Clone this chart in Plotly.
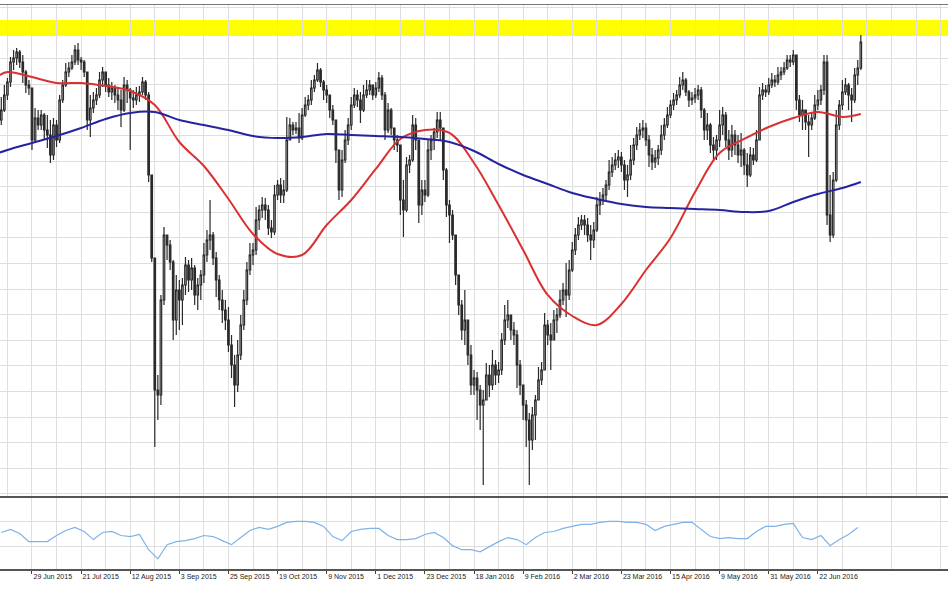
import plotly.graph_objects as go

# ---------------- data ----------------
# daily bars, index 0 = 29 Jun 2015 ; first visible bar is index -10
bar_start = -10
first_open = 2080

close_px = [
    2090, 2105, 2118, 2138, 2142, 2148, 2138, 2128, 2115, 2112,
    2060, 2082, 2075, 2085, 2070, 2065, 2045, 2075, 2060, 2100,
    2115, 2128, 2132, 2138, 2150, 2140, 2138, 2128, 2080, 2092,
    2100, 2105, 2120, 2128, 2115, 2108, 2112, 2105, 2100, 2090,
    2115, 2110, 2102, 2100, 2105, 2108, 2118, 2105, 2025, 1942,
    1810, 1805, 1900, 1965, 1955, 1938, 1880, 1910, 1900, 1915,
    1935, 1920, 1932, 1905, 1915, 1925, 1945, 1960, 1965, 1942,
    1920, 1900, 1890, 1880, 1855, 1835, 1815, 1845, 1875, 1900,
    1930, 1945, 1950, 1980, 1990, 1995, 1990, 1972, 1968, 2005,
    2015, 2005, 2010, 2060, 2075, 2070, 2072, 2062, 2085, 2095,
    2100, 2112, 2120, 2130, 2118, 2110, 2105, 2090, 2080, 2050,
    2010, 2040, 2060, 2075, 2095, 2105, 2100, 2090, 2105, 2110,
    2115, 2105, 2112, 2122, 2105, 2070, 2090, 2072, 2060, 2055,
    2000, 1990, 2035, 2040, 2075, 2060, 1995, 2010, 2005, 2050,
    2060, 2068, 2080, 2072, 2030, 1995, 1985, 1965, 1925, 1895,
    1870, 1880, 1845, 1815, 1822, 1810, 1795, 1800, 1825, 1815,
    1835, 1825, 1830, 1860, 1880, 1885, 1870, 1865, 1835, 1815,
    1795, 1780, 1760, 1785, 1800, 1820, 1830, 1875, 1865, 1860,
    1880, 1885, 1900, 1910, 1905, 1930, 1950, 1965, 1975, 1980,
    1975, 1965, 1960, 1970, 1995, 2000, 2005, 2015, 2028, 2035,
    2040, 2043, 2035, 2020, 2025, 2040, 2055, 2065, 2070, 2072,
    2060, 2045, 2038, 2042, 2050, 2065, 2075, 2085, 2095, 2100,
    2105, 2115, 2120, 2108, 2100, 2102, 2105, 2110, 2090, 2070,
    2075, 2055, 2050, 2060, 2075, 2085, 2060, 2050, 2065, 2055,
    2045, 2050, 2035, 2025, 2045, 2040, 2060, 2105, 2110, 2108,
    2115, 2120, 2118, 2125, 2128, 2132, 2140, 2138, 2145, 2100,
    2085, 2090, 2078, 2075, 2082, 2095, 2100, 2110, 2138, 1985,
    1965, 2020, 2075, 2095, 2108, 2115, 2105, 2100, 2125, 2132, 2158,
]

high_px = [
    2103, 2115, 2122, 2143, 2150, 2152, 2150, 2145, 2130, 2120,
    2100, 2092, 2090, 2090, 2087, 2085, 2080, 2082, 2080, 2105,
    2120, 2137, 2138, 2145, 2155, 2157, 2143, 2140, 2127, 2105,
    2108, 2112, 2128, 2133, 2127, 2122, 2118, 2115, 2113, 2110,
    2123, 2120, 2112, 2110, 2113, 2114, 2123, 2120, 2108, 2022,
    1942, 1825, 1905, 1973, 1965, 1960, 1940, 1925, 1920, 1922,
    1943, 1940, 1942, 1935, 1922, 1930, 1957, 1970, 2000, 1968,
    1948, 1925, 1910, 1900, 1893, 1865, 1845, 1860, 1885, 1910,
    1938, 1957, 1957, 1993, 1995, 2003, 2002, 1995, 1980, 2015,
    2020, 2022, 2020, 2083, 2082, 2078, 2078, 2087, 2092, 2103,
    2105, 2120, 2125, 2137, 2132, 2120, 2115, 2105, 2095, 2080,
    2050, 2050, 2070, 2082, 2103, 2112, 2110, 2108, 2115, 2120,
    2120, 2115, 2118, 2128, 2125, 2108, 2097, 2092, 2072, 2065,
    2055, 2020, 2043, 2045, 2085, 2082, 2060, 2020, 2020, 2060,
    2065, 2072, 2088, 2088, 2070, 2032, 2000, 1990, 1965, 1925,
    1900, 1910, 1880, 1855, 1830, 1828, 1815, 1810, 1837, 1835,
    1850, 1840, 1838, 1867, 1895, 1900, 1882, 1878, 1870, 1840,
    1815, 1800, 1787, 1793, 1805, 1833, 1838, 1887, 1880, 1877,
    1890, 1892, 1910, 1917, 1937, 1940, 1958, 1972, 1983, 1985,
    1985, 1982, 1975, 1978, 2003, 2008, 2012, 2020, 2040, 2043,
    2047, 2050, 2048, 2040, 2035, 2055, 2062, 2073, 2077, 2080,
    2077, 2065, 2052, 2050, 2055, 2075, 2082, 2093, 2100, 2107,
    2110, 2123, 2128, 2122, 2110, 2108, 2112, 2115, 2113, 2092,
    2087, 2077, 2063, 2065, 2090, 2093, 2088, 2070, 2075, 2070,
    2065, 2067, 2052, 2047, 2053, 2052, 2070, 2113, 2117, 2115,
    2122, 2127, 2125, 2133, 2133, 2138, 2145, 2145, 2150, 2140,
    2105, 2100, 2090, 2085, 2087, 2105, 2110, 2115, 2145, 2145,
    2025, 2028, 2090, 2100, 2120, 2122, 2117, 2112, 2132, 2140, 2165,
]

low_px = [
    2075, 2088, 2100, 2113, 2130, 2135, 2132, 2117, 2107, 2105,
    2050, 2058, 2070, 2070, 2060, 2052, 2037, 2040, 2053, 2057,
    2097, 2113, 2123, 2130, 2135, 2135, 2130, 2123, 2070, 2063,
    2087, 2095, 2102, 2113, 2108, 2103, 2100, 2097, 2090, 2073,
    2088, 2097, 2050, 2092, 2095, 2098, 2105, 2100, 2018, 1938,
    1753, 1780, 1795, 1895, 1940, 1930, 1860, 1865, 1870, 1875,
    1905, 1908, 1910, 1895, 1890, 1900, 1917, 1938, 1950, 1935,
    1903, 1890, 1877, 1870, 1848, 1822, 1793, 1808, 1840, 1870,
    1895, 1925, 1935, 1945, 1970, 1982, 1980, 1965, 1962, 1965,
    2000, 1997, 1997, 2008, 2060, 2065, 2066, 2057, 2060, 2083,
    2090, 2095, 2108, 2118, 2113, 2100, 2097, 2082, 2075, 2037,
    2000, 2003, 2037, 2055, 2070, 2092, 2093, 2077, 2088, 2102,
    2105, 2100, 2102, 2108, 2100, 2060, 2067, 2065, 2050, 2048,
    1985, 1963, 1988, 2027, 2038, 2050, 1977, 1985, 1998, 2003,
    2040, 2050, 2062, 2060, 2020, 1983, 1957, 1960, 1915, 1885,
    1860, 1855, 1835, 1805, 1805, 1780, 1770, 1715, 1800, 1803,
    1810, 1815, 1817, 1825, 1855, 1872, 1860, 1855, 1812, 1805,
    1780, 1753, 1715, 1750, 1760, 1800, 1815, 1830, 1855, 1830,
    1860, 1867, 1882, 1895, 1883, 1900, 1928, 1945, 1960, 1970,
    1965, 1958, 1940, 1952, 1968, 1985, 1995, 2000, 2010, 2023,
    2030, 2032, 2028, 2010, 2003, 2020, 2035, 2050, 2060, 2062,
    2054, 2033, 2030, 2032, 2035, 2045, 2060, 2072, 2082, 2090,
    2095, 2102, 2110, 2104, 2093, 2095, 2097, 2100, 2082, 2060,
    2060, 2047, 2040, 2040, 2053, 2065, 2053, 2040, 2043, 2045,
    2037, 2033, 2025, 2013, 2023, 2035, 2038, 2060, 2100, 2103,
    2105, 2112, 2113, 2115, 2120, 2125, 2130, 2133, 2135, 2090,
    2078, 2070, 2070, 2043, 2070, 2080, 2090, 2095, 2105, 1975,
    1958, 1962, 2018, 2070, 2090, 2105, 2090, 2078, 2097, 2115, 2130,
]

# moving averages read at sampled bars
ma_bars = [-11, -8] + list(range(0, 265, 8)) + [270]
ma_fast = [2124, 2128,
           2123, 2117, 2117, 2114, 2109, 2095, 2058, 2034, 2001, 1966,
           1946, 1945, 1975, 2000, 2031, 2061, 2070, 2067, 2037, 1995,
           1950, 1905, 1884, 1875, 1896, 1930, 1962, 2008, 2047, 2061,
           2073, 2082, 2088, 2083,
           2086]
ma_slow = [2047, 2050,
           2057, 2064, 2072, 2081, 2087, 2088, 2080, 2075, 2070, 2064,
           2062, 2063, 2066, 2065, 2064, 2063, 2061, 2058, 2049, 2036,
           2025, 2016, 2007, 2001, 1996, 1993, 1992, 1991, 1990, 1988,
           1989, 1998, 2006, 2012,
           2018]

# lower-panel oscillator, read every 3rd bar starting at bar -10
osc_bars = list(range(-10, 270, 3))
osc_vals = [36, 39, 35, 27, 27, 27, 33, 38, 41, 37,
            29, 36, 37, 33, 32, 34, 19, 10, 24, 27,
            28, 30, 33, 32, 28, 24, 31, 38, 41, 39,
            42, 46, 47, 47, 46, 42, 32, 28, 37, 39,
            40, 40, 33, 29, 29, 30, 34, 36, 31, 23,
            19, 19, 17, 22, 27, 31, 29, 24, 31, 36,
            37, 40, 42, 44, 44, 46, 47, 47, 46, 46,
            44, 38, 42, 44, 46, 46, 39, 32, 30, 31,
            30, 30, 37, 42, 42, 44, 45, 31, 29, 33,
            23, 29, 34, 41]

resistance_zone = [2164, 2180]

label_bars = list(range(0, 257, 16))
label_text = ["29 Jun 2015", "21 Jul 2015", "12 Aug 2015", "3 Sep 2015",
              "25 Sep 2015", "19 Oct 2015", "9 Nov 2015", "1 Dec 2015",
              "23 Dec 2015", "18 Jan 2016", "9 Feb 2016", "2 Mar 2016",
              "23 Mar 2016", "15 Apr 2016", "9 May 2016", "31 May 2016",
              "22 Jun 2016"]
partial_label = (-16, "5 Jun 2015")

# ---------------- build ----------------
bars = list(range(bar_start, bar_start + len(close_px)))
open_px = [first_open] + close_px[:-1]
high_c = [max(h, o, c) for h, o, c in zip(high_px, open_px, close_px)]
low_c = [min(l, o, c) for l, o, c in zip(low_px, open_px, close_px)]

GRID = "#dedede"
CANDLE = "#2a2a2a"
FONT = "Liberation Sans"

fig = go.Figure()
fig.add_trace(go.Candlestick(
    x=bars, open=open_px, high=high_c, low=low_c, close=close_px,
    xaxis="x", yaxis="y", whiskerwidth=0,
    increasing=dict(line=dict(color=CANDLE, width=1.2), fillcolor="#ffffff"),
    decreasing=dict(line=dict(color=CANDLE, width=1.2), fillcolor=CANDLE),
    hoverinfo="skip", showlegend=False))
fig.add_trace(go.Scatter(x=ma_bars, y=ma_fast, mode="lines", xaxis="x", yaxis="y",
                         line=dict(color="#d93030", width=2, shape="spline"),
                         hoverinfo="skip", showlegend=False))
fig.add_trace(go.Scatter(x=ma_bars, y=ma_slow, mode="lines", xaxis="x", yaxis="y",
                         line=dict(color="#2424a0", width=2, shape="spline"),
                         hoverinfo="skip", showlegend=False))
fig.add_trace(go.Scatter(x=osc_bars, y=osc_vals, mode="lines", xaxis="x2", yaxis="y2",
                         line=dict(color="#7db3e8", width=1.2),
                         hoverinfo="skip", showlegend=False))

grid_bars = list(range(-8, 300, 8))
mid_bars = [b + 8 for b in label_bars] + [264, 280, 296]
x_range = [-10.42, 298.4]

fig.add_shape(type="rect", xref="paper", x0=0, x1=1, yref="y",
              y0=resistance_zone[0], y1=resistance_zone[1],
              fillcolor="#ffff00", line=dict(width=0), layer="between")

fig.add_annotation(x=partial_label[0], xref="x2", y=0, yref="paper",
                   text=partial_label[1], showarrow=False, xanchor="left",
                   yanchor="top", yshift=-3, xshift=2,
                   font=dict(family=FONT, size=7, color="#222"))

fig.update_layout(
    width=948, height=593,
    margin=dict(l=0, r=0, t=5, b=24),
    paper_bgcolor="white", plot_bgcolor="white",
    showlegend=False, hovermode=False,
    xaxis=dict(domain=[0, 1], anchor="y", range=x_range,
               tickmode="array", tickvals=grid_bars, showticklabels=False, ticks="",
               showgrid=True, gridcolor=GRID, gridwidth=1, zeroline=False,
               showline=True, linecolor="#777", linewidth=1, mirror=True,
               rangeslider=dict(visible=False)),
    xaxis2=dict(domain=[0, 1], anchor="y2", matches="x", range=x_range,
                tickmode="array", tickvals=label_bars, ticktext=label_text,
                ticklabelposition="outside right", ticks="outside", ticklen=3,
                tickcolor="#444", tickfont=dict(family=FONT, size=7, color="#222"),
                showgrid=True, gridcolor=GRID, gridwidth=1, zeroline=False,
                minor=dict(tickmode="array", tickvals=mid_bars, showgrid=True,
                           gridcolor=GRID, ticks=""),
                showline=True, linecolor="#555", linewidth=2, mirror=True),
    yaxis=dict(domain=[0.1277, 1], anchor="x", range=[1703, 2195],
               tickmode="linear", tick0=2090, dtick=25.6, showticklabels=False,
               showgrid=True, gridcolor=GRID, zeroline=False),
    yaxis2=dict(domain=[0, 0.1259], anchor="x2", range=[0, 70],
                tickmode="array", tickvals=[22, 47], showticklabels=False,
                showgrid=True, gridcolor=GRID, zeroline=False),
)

fig.write_html("out.html", config={"staticPlot": True},
               post_script="document.body.style.margin='0';"
                           "document.body.style.overflow='hidden';")
